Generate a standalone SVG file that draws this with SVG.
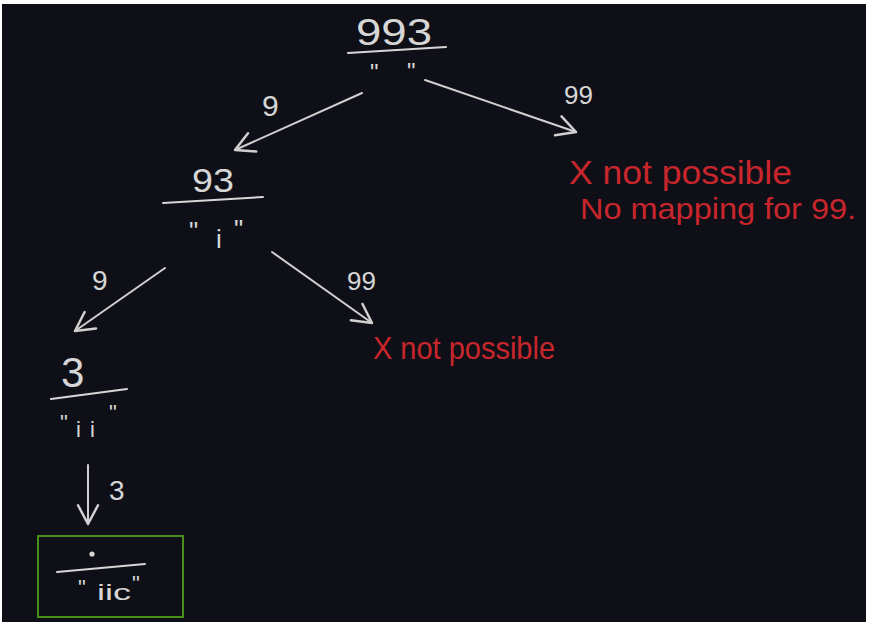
<svg xmlns="http://www.w3.org/2000/svg" width="870" height="628" viewBox="0 0 870 628">
<defs>
<style>
.bg{fill:#0f1017}
.ink{fill:#d6d6d6;font-family:"Liberation Sans",Arial,sans-serif}
.red{fill:#c8262c;font-family:"Liberation Sans",Arial,sans-serif}
.ln{stroke:#d6d6d6;stroke-width:2;fill:none;stroke-linecap:round}
.edge{stroke:#d0d0d0;stroke-width:2;fill:none;stroke-linecap:round}
</style>
<marker id="arr" markerUnits="userSpaceOnUse" orient="auto" refX="0" refY="0" markerWidth="30" markerHeight="30" viewBox="-20 -12 24 24" overflow="visible">
<path d="M -15 -8 L 0 0 L -15 8" fill="none" stroke="#d0d0d0" stroke-width="2" stroke-linecap="round" stroke-linejoin="round"/>
</marker>
</defs>
<rect x="0" y="0" width="870" height="628" fill="#ffffff"/>
<rect class="bg" x="2" y="4" width="864" height="618"/>

<g id="connectors">
<path class="edge" d="M 362 93 L 235 150" marker-end="url(#arr)"/>
<text class="ink" x="262" y="116" font-size="30">9</text>
<path class="edge" d="M 425 80 L 576 132" marker-end="url(#arr)"/>
<text class="ink" x="564" y="104" font-size="26">99</text>
<path class="edge" d="M 165 268 L 75 331" marker-end="url(#arr)"/>
<text class="ink" x="92" y="290" font-size="28">9</text>
<path class="edge" d="M 272 252 L 372 323" marker-end="url(#arr)"/>
<text class="ink" x="347" y="290" font-size="26">99</text>
<path class="edge" d="M 88 465 L 88 524" marker-end="url(#arr)"/>
<text class="ink" x="109" y="500" font-size="28">3</text>
</g>

<g id="node-993">
<text class="ink" x="356" y="45" font-size="37" textLength="76" lengthAdjust="spacingAndGlyphs">993</text>
<path class="ln" d="M 348 53 L 446 47"/>
<text class="ink" font-size="24"><tspan x="370" y="81">"</tspan><tspan x="407" y="80">"</tspan></text>
</g>

<g id="node-93">
<text class="ink" x="192" y="192" font-size="33" textLength="42" lengthAdjust="spacingAndGlyphs">93</text>
<path class="ln" d="M 163 203 L 263 197"/>
<text class="ink" font-size="26"><tspan x="189" y="240">"</tspan><tspan x="216" y="248">i</tspan><tspan x="234" y="238">"</tspan></text>
</g>

<g id="node-3">
<text class="ink" x="61" y="387" font-size="42">3</text>
<path class="ln" d="M 51 399 L 127 389"/>
<text class="ink" font-size="22"><tspan x="60" y="430">"</tspan><tspan x="76" y="437">i</tspan><tspan x="90" y="437">i</tspan><tspan x="109" y="420">"</tspan></text>
</g>

<g id="node-result">
<rect x="38" y="536" width="145" height="81" fill="none" stroke="#4a8f1a" stroke-width="2"/>
<circle cx="92" cy="554" r="2.6" fill="#d6d6d6"/>
<path class="ln" d="M 57 572 L 145 564"/>
<text class="ink" font-size="22"><tspan x="78" y="595">"</tspan><tspan x="97" y="600" textLength="34" lengthAdjust="spacingAndGlyphs">iic</tspan><tspan x="132" y="591">"</tspan></text>
</g>

<g id="fail-1">
<text class="red" x="569" y="184" font-size="33" textLength="223" lengthAdjust="spacingAndGlyphs">X not possible</text>
<text class="red" x="580" y="219" font-size="30" textLength="276" lengthAdjust="spacingAndGlyphs">No mapping for 99.</text>
</g>

<g id="fail-2">
<text class="red" x="373" y="359" font-size="32" textLength="182" lengthAdjust="spacingAndGlyphs">X not possible</text>
</g>
</svg>
